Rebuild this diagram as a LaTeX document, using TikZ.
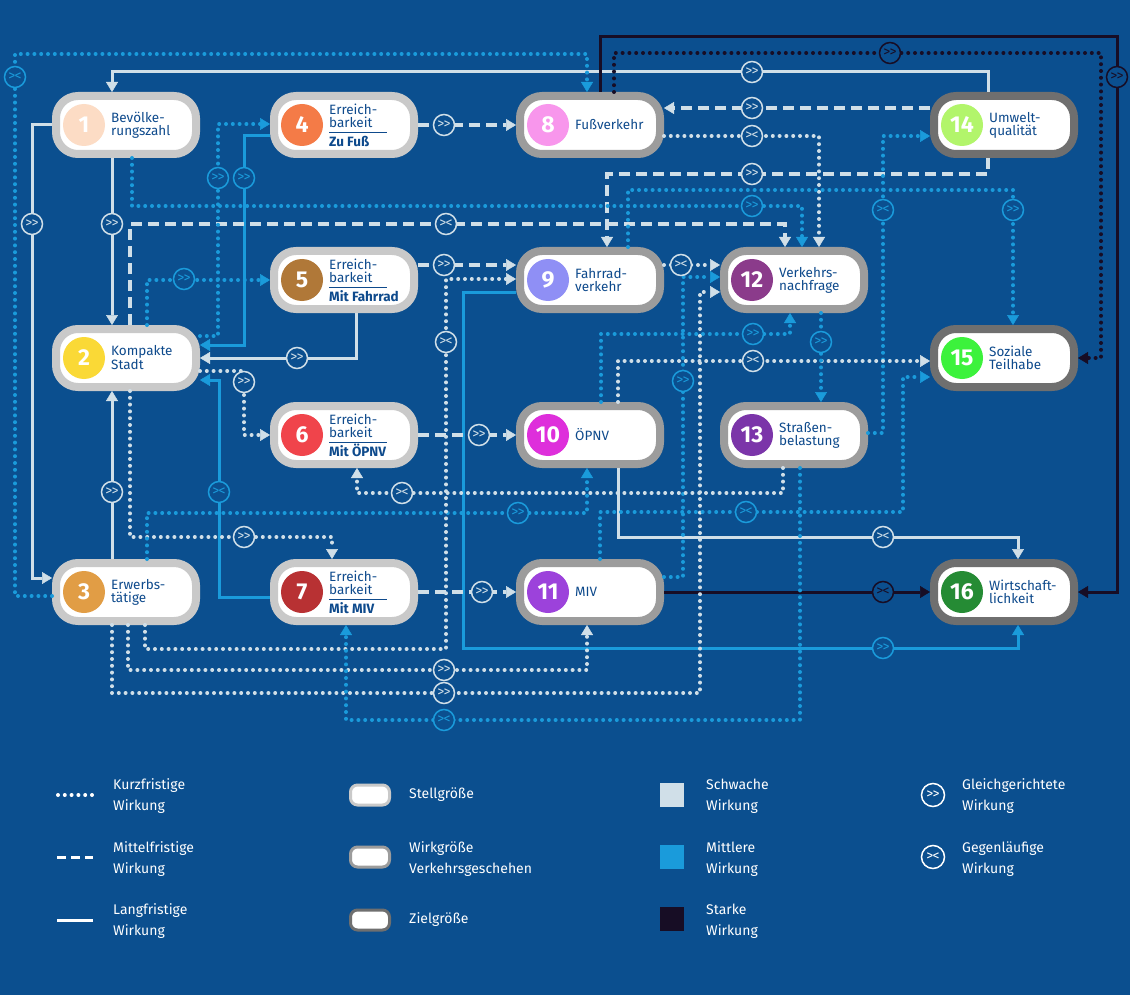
\documentclass[tikz,border=0pt]{standalone}
\usepackage{fontspec}
\setmainfont{Fira Sans}
\usetikzlibrary{arrows.meta,calc}
\definecolor{bgblue}{HTML}{0B4F8F}
\definecolor{txtblue}{HTML}{0E4A8C}
\definecolor{weakc}{HTML}{D0DFE8}
\definecolor{midc}{HTML}{1A9BDB}
\definecolor{strongc}{HTML}{170D25}
\definecolor{ringS}{HTML}{C9C9C9}
\definecolor{ringW}{HTML}{9C9C9C}
\definecolor{ringZ}{HTML}{6F6F6F}
\definecolor{nrA}{HTML}{FCDCC5}
\definecolor{nrB}{HTML}{FAD936}
\definecolor{nrC}{HTML}{E19D45}
\definecolor{nrD}{HTML}{F47B47}
\definecolor{nrE}{HTML}{B07838}
\definecolor{nrF}{HTML}{F0444B}
\definecolor{nrG}{HTML}{B83133}
\definecolor{nrH}{HTML}{F896EC}
\definecolor{nrI}{HTML}{8F8FF5}
\definecolor{nrJ}{HTML}{DE2FDB}
\definecolor{nrK}{HTML}{9C42DB}
\definecolor{nrL}{HTML}{8B3B8B}
\definecolor{nrM}{HTML}{7B35A9}
\definecolor{nrN}{HTML}{B2F56B}
\definecolor{nrO}{HTML}{3CF23C}
\definecolor{nrP}{HTML}{258B34}

\newcommand{\erb}[1]{Erreich-\\barkeit\\[-7.5pt]\rule{58pt}{0.9pt}\\[0.5pt]\textbf{#1}}
\newcommand{\gleich}{>\kern-0.8pt>}
\newcommand{\gegen}{>\kern-0.8pt<}
% box: name, x, y, ring, circle colour, number, text
\newcommand{\feld}[7]{%
  \node[box,draw=#4] (#1) at (#2,#3) {};
  \node[nrc,fill=#5] (#1c) at ([xshift=-42pt]#1.center) {#6};
  \node[lbl] (#1t) at ([xshift=-15pt]#1.center) {#7};}

\begin{document}
\begin{tikzpicture}[x=1pt,y=-1pt,
 box/.style={rounded corners=22pt, line width=8pt, fill=white, minimum width=140pt, minimum height=58pt, inner sep=0pt},
 nrc/.style={circle, minimum size=42pt, inner sep=0pt, text=white, font=\fontsize{23}{23}\selectfont\bfseries},
 lbl/.style={anchor=west, align=left, inner sep=0pt, text=txtblue, font=\fontsize{13.5}{13}\selectfont},
 lnk/.style={-{Triangle[length=10pt,width=12pt,line width=0.5pt]}},
 kurz/.style={lnk, line width=4pt, line cap=round, dash pattern=on 0pt off 6.8pt},
 mittelfr/.style={lnk, line width=3.2pt, dash pattern=on 11pt off 6pt},
 lang/.style={lnk, line width=3pt},
 sw/.style={draw=weakc}, sm/.style={draw=midc}, ss/.style={draw=strongc},
 sym/.style={circle, fill=bgblue, line width=1.5pt, minimum size=21pt, inner sep=0pt, font=\fontsize{14}{14}\selectfont},
 gw/.style={sym, draw=weakc, text=weakc},
 gm/.style={sym, draw=midc, text=midc},
 gs/.style={sym, draw=strongc, text=strongc},
 leg/.style={anchor=west, align=left, inner sep=0pt, text=white, font=\fontsize{14}{21}\selectfont},
 pill/.style={rounded corners=7pt, line width=3pt, fill=white, minimum width=39pt, minimum height=20pt, inner sep=0pt},
]
\useasboundingbox (0,0) rectangle (1130,995);
\fill[bgblue] (0,0) rectangle (1130,995);

% boxes
\feld{n1}{126}{125}{ringS}{nrA}{1}{Bevölke-\\rungszahl}
\feld{n2}{126}{358}{ringS}{nrB}{2}{Kompakte\\Stadt}
\feld{n3}{126}{592}{ringS}{nrC}{3}{Erwerbs-\\tätige}
\feld{n4}{344}{125}{ringS}{nrD}{4}{\erb{Zu Fuß}}
\feld{n5}{344}{280}{ringS}{nrE}{5}{\erb{Mit Fahrrad}}
\feld{n6}{344}{435}{ringS}{nrF}{6}{\erb{Mit ÖPNV}}
\feld{n7}{344}{592}{ringS}{nrG}{7}{\erb{Mit MIV}}
\feld{n8}{590}{125}{ringW}{nrH}{8}{Fußverkehr}
\feld{n9}{590}{280}{ringW}{nrI}{9}{Fahrrad-\\verkehr}
\feld{n10}{590}{435}{ringW}{nrJ}{10}{ÖPNV}
\feld{n11}{590}{592}{ringW}{nrK}{11}{MIV}
\feld{n12}{794}{280}{ringW}{nrL}{12}{Verkehrs-\\nachfrage}
\feld{n13}{794}{435}{ringW}{nrM}{13}{Straßen-\\belastung}
\feld{n14}{1004}{125}{ringZ}{nrN}{14}{Umwelt-\\qualität}
\feld{n15}{1004}{358}{ringZ}{nrO}{15}{Soziale\\Teilhabe}
\feld{n16}{1004}{592}{ringZ}{nrP}{16}{Wirtschaft-\\lichkeit}

% langfristig
\draw[lang,sw] (n14.north -| 988,0) |- (112,72) -- (n1.north -| 112,0);
\draw[lang,ss] (n8.north -| 600,0) |- (1117,37) |- (n16.east);
\draw[lang,sw] (n1.west) -| (32,578) -- (n3.west |- 0,578);
\draw[lang,sw] (n1.south -| 112,0) -- (n2.north -| 112,0);
\draw[lang,sw] (n3.north -| 112,0) -- (n2.south -| 112,0);
\draw[lang,sm] (n4.west |- 0,136) -| (244,345) -- (n2.east |- 0,345);
\draw[lang,sw] (n5.south -| 356,0) |- (n2.east);
\draw[lang,sm] (n7.west |- 0,597) -| (219,380) -- (n2.east |- 0,380);
\draw[lang,sm] (n9.west |- 0,292) -| (463,648) -| (n16.south -| 1018,0);
\draw[lang,sw] (n10.south -| 618,0) |- (1018,537) -- (n16.north -| 1018,0);
\draw[lang,ss] (n11.east) -- (n16.west);

% mittelfristig
\draw[mittelfr,sw] (n14.west |- 0,108) -- (n8.east |- 0,108);
\draw[mittelfr,sw] (n14.south -| 988,0) |- (607,174) -- (n9.north -| 607,0);
\draw[mittelfr,sw] (n2.north -| 130,0) |- (785,224) -- (n12.north -| 785,0);
\draw[mittelfr,sw] (n4.east) -- (n8.west);
\draw[mittelfr,sw] (n5.east |- 0,265) -- (n9.west |- 0,265);
\draw[mittelfr,sw] (n6.east) -- (n10.west);
\draw[mittelfr,sw] (n7.east) -- (n11.west);

% kurzfristig
\draw[kurz,sm] (n3.west |- 0,596) -| (15,54) -| (n8.north -| 587,0);
\draw[kurz,ss] (n8.north -| 614,0) |- (1101,53) |- (n15.east);
\draw[kurz,sw] (n8.east |- 0,136) -| (n12.north -| 819,0);
\draw[kurz,sm] (n9.north -| 628,0) |- (1013,190) -- (n15.north -| 1013,0);
\draw[kurz,sm] (n1.south -| 132,0) |- (802,206) -- (n12.north -| 802,0);
\draw[kurz,sm] (n13.east |- 0,433) -| (883,136) -- (n14.west |- 0,136);
\draw[kurz,sm] (n2.east |- 0,336) -| (218,124) -- (n4.west |- 0,124);
\draw[kurz,sm] (n2.north -| 147,0) |- (n5.west);
\draw[kurz,sw] (n2.east |- 0,371) -| (244,435) -- (n6.west);
\draw[kurz,sw] (n2.south -| 130,0) |- (332,537) -- (n7.north -| 332,0);
\draw[kurz,sm] (n3.north -| 147,0) |- (587,513) -- (n10.south -| 587,0);
\draw[kurz,sw] (n3.south -| 145,0) |- (446,649) |- (n9.west |- 0,279);
\draw[kurz,sw] (n3.south -| 128,0) |- (587,670) -- (n11.south -| 587,0);
\draw[kurz,sw] (n3.south -| 112,0) |- (700,693) |- (n12.west |- 0,292);
\draw[kurz,sm] (n13.south -| 800,0) |- (346,720) -- (n7.south -| 346,0);
\draw[kurz,sw] (n9.east |- 0,265) -- (n12.west |- 0,265);
\draw[kurz,sm] (n11.east |- 0,577) -| (683,277) -- (n12.west |- 0,277);
\draw[kurz,sm] (n10.north -| 601,0) |- (790,334) -- (n12.south -| 790,0);
\draw[kurz,sw] (n10.north -| 618,0) |- (n15.west |- 0,361);
\draw[kurz,sm] (n12.south -| 821,0) -- (n13.north -| 821,0);
\draw[kurz,sm] (n11.north -| 600,0) |- (903,512) |- (n15.west |- 0,377);
\draw[kurz,sw] (n13.south -| 783,0) |- (357,493) -- (n6.south -| 357,0);

% Wirkungsrichtung
\node[gm] (ga) at (15,77) {\gegen};
\node[gw] (gb) at (752,72) {\gleich};
\node[gs] (gc) at (1117,77) {\gleich};
\node[gs] (gd) at (890,53) {\gleich};
\node[gw] (ge) at (752,108) {\gleich};
\node[gw] (gf) at (752,136) {\gegen};
\node[gw] (gg) at (752,174) {\gleich};
\node[gm] (gh) at (1013,210) {\gleich};
\node[gm] (gi) at (752,206) {\gleich};
\node[gw] (gj) at (446,224) {\gegen};
\node[gm] (gk) at (883,210) {\gegen};
\node[gw] (gl) at (32,224) {\gleich};
\node[gw] (gm) at (112,224) {\gleich};
\node[gw] (gn) at (112,492) {\gleich};
\node[gm] (go) at (218,178) {\gleich};
\node[gm] (gp) at (244,178) {\gleich};
\node[gm] (gq) at (184,279) {\gleich};
\node[gw] (gr) at (297,358) {\gleich};
\node[gw] (gs) at (244,382) {\gleich};
\node[gm] (gt) at (219,492) {\gegen};
\node[gw] (gu) at (244,537) {\gleich};
\node[gm] (gv) at (518,513) {\gleich};
\node[gw] (gw) at (446,342) {\gegen};
\node[gw] (gx) at (444,670) {\gleich};
\node[gw] (gy) at (444,693) {\gleich};
\node[gm] (gz) at (444,720) {\gegen};
\node[gw] (gaa) at (444,125) {\gleich};
\node[gw] (gbb) at (444,265) {\gleich};
\node[gw] (gcc) at (479,435) {\gleich};
\node[gw] (gdd) at (482,592) {\gleich};
\node[gm] (gee) at (883,648) {\gleich};
\node[gw] (gff) at (681,265) {\gegen};
\node[gm] (ggg) at (683,381) {\gleich};
\node[gm] (ghh) at (753,334) {\gleich};
\node[gw] (gii) at (753,361) {\gegen};
\node[gm] (gjj) at (821,342) {\gleich};
\node[gm] (gkk) at (746,512) {\gegen};
\node[gw] (gll) at (402,493) {\gegen};
\node[gw] (gmm) at (883,537) {\gegen};
\node[gs] (gnn) at (883,592) {\gegen};

% legend
\draw[white, line width=4pt, line cap=round, dash pattern=on 0pt off 6.8pt] (58,795) -- (92,795);
\draw[white, line width=3pt, dash pattern=on 9pt off 5pt] (57,857) -- (93,857);
\draw[white, line width=3pt] (57,920) -- (93,920);
\node[leg] (l1) at (113,796) {Kurzfristige\\Wirkung};
\node[leg] (l2) at (113,859) {Mittelfristige\\Wirkung};
\node[leg] (l3) at (113,921) {Langfristige\\Wirkung};
\node[pill, draw=ringS] (p1) at (370,795) {};
\node[pill, draw=ringW] (p2) at (370,857) {};
\node[pill, draw=ringZ] (p3) at (370,920) {};
\node[leg] (l4) at (409,795) {Stellgröße};
\node[leg] (l5) at (409,859) {Wirkgröße\\Verkehrsgeschehen};
\node[leg] (l6) at (409,920) {Zielgröße};
\fill[weakc] (660,783) rectangle (684,807);
\fill[midc] (660,845) rectangle (684,869);
\fill[strongc] (660,907) rectangle (684,931);
\node[leg] (l7) at (706,796) {Schwache\\Wirkung};
\node[leg] (l8) at (706,859) {Mittlere\\Wirkung};
\node[leg] (l9) at (706,921) {Starke\\Wirkung};
\node[sym, draw=white, text=white, minimum size=23pt] (lg1) at (933,795) {\gleich};
\node[sym, draw=white, text=white, minimum size=23pt] (lg2) at (933,857) {\gegen};
\node[leg] (l10) at (962,796) {Gleichgerichtete\\Wirkung};
\node[leg] (l11) at (962,859) {Gegenläufige\\Wirkung};
\end{tikzpicture}
\end{document}
